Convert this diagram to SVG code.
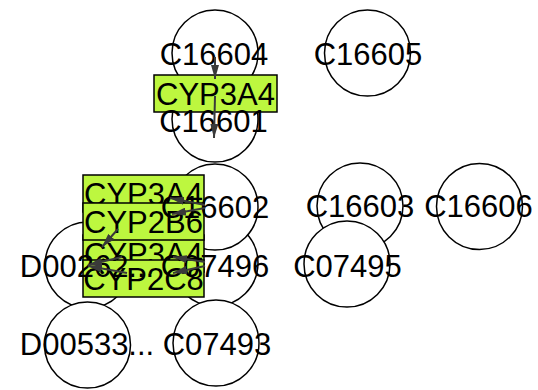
<svg xmlns="http://www.w3.org/2000/svg" width="538" height="390" viewBox="0 0 538 390">
<style>
.cpd{fill:#fff;stroke:#000;stroke-width:1.5}
.enz{fill:#bdf73f;stroke:#000;stroke-width:1.5}
.lbl{font-family:"Liberation Sans",Arial,sans-serif;font-size:31px;fill:#000;text-anchor:middle}
.edge{fill:none;stroke:#3a3a3a;stroke-width:2;marker-end:url(#arr)}
</style>
<defs>
<marker id="arr" markerUnits="userSpaceOnUse" markerWidth="14" markerHeight="8" refX="14" refY="4" orient="auto">
<path d="M0,0 L14,4 L0,8 z" fill="#3a3a3a"/>
</marker>
</defs>
<rect width="538" height="390" fill="#fff"/>
<g id="compounds">
<g id="C16604"><circle class="cpd" cx="215" cy="53" r="43"/></g>
<g id="C16605"><circle class="cpd" cx="367.5" cy="53" r="43"/></g>
<g id="C16601"><circle class="cpd" cx="215" cy="119" r="43"/></g>
<g id="C16603"><circle class="cpd" cx="360" cy="206" r="43"/></g>
<g id="C16606"><circle class="cpd" cx="479.5" cy="206.5" r="43"/></g>
<g id="C07495"><circle class="cpd" cx="347" cy="264" r="43"/></g>
<g id="C07496"><circle class="cpd" cx="215" cy="263" r="43"/></g>
<g id="C16602"><circle class="cpd" cx="215" cy="207" r="43"/></g>
<g id="C07493"><circle class="cpd" cx="216" cy="343" r="43"/></g>
<g id="D00262"><circle class="cpd" cx="88" cy="265" r="43"/></g>
<g id="D00533"><circle class="cpd" cx="87.5" cy="345" r="43"/></g>
</g>
<g id="enzymes">
<g id="CYP3A4_a"><rect class="enz" x="154" y="75" width="123" height="37"/><text class="lbl" x="215.5" y="105">CYP3A4</text></g>
<g id="CYP3A4_b"><rect class="enz" x="83" y="175" width="121" height="37"/><text class="lbl" x="143.5" y="204.5">CYP3A4</text></g>
<g id="CYP3A4_c"><rect class="enz" x="83" y="235" width="121" height="37"/><text class="lbl" x="143.5" y="264.5">CYP3A4</text></g>
<g id="CYP2B6"><rect class="enz" x="83" y="203" width="121" height="37"/><text class="lbl" x="143.5" y="232.5">CYP2B6</text></g>
<g id="CYP2C8"><rect class="enz" x="83" y="260" width="121" height="37"/><text class="lbl" x="143.5" y="289.5">CYP2C8</text></g>
</g>
<g id="compound-labels">
<text class="lbl" x="214" y="65">C16604</text>
<text class="lbl" x="368" y="65">C16605</text>
<text class="lbl" x="213.5" y="132">C16601</text>
<text class="lbl" x="215" y="218">C16602</text>
<text class="lbl" x="360" y="217">C16603</text>
<text class="lbl" x="478.5" y="217">C16606</text>
<text class="lbl" x="215" y="277">C07496</text>
<text class="lbl" x="347.5" y="277">C07495</text>
<text class="lbl" x="87" y="277">D00262...</text>
<text class="lbl" x="87" y="355">D00533...</text>
<text class="lbl" x="217" y="355">C07493</text>
</g>
<g id="connectors">
<path class="edge" d="M215,57 L215,79"/>
<path class="edge" d="M215,96 L214,138"/>
<path class="edge" d="M205,205 L170,198"/>
<path class="edge" d="M205,208 L172,214"/>
<path class="edge" d="M205,262 L173,257"/>
<path class="edge" d="M205,266 L173,273"/>
<path class="edge" d="M118,229 L102,247"/>
<path class="edge" d="M122,257 L88,265"/>
<path class="edge" d="M127,273 L88,266"/>
</g>
</svg>
